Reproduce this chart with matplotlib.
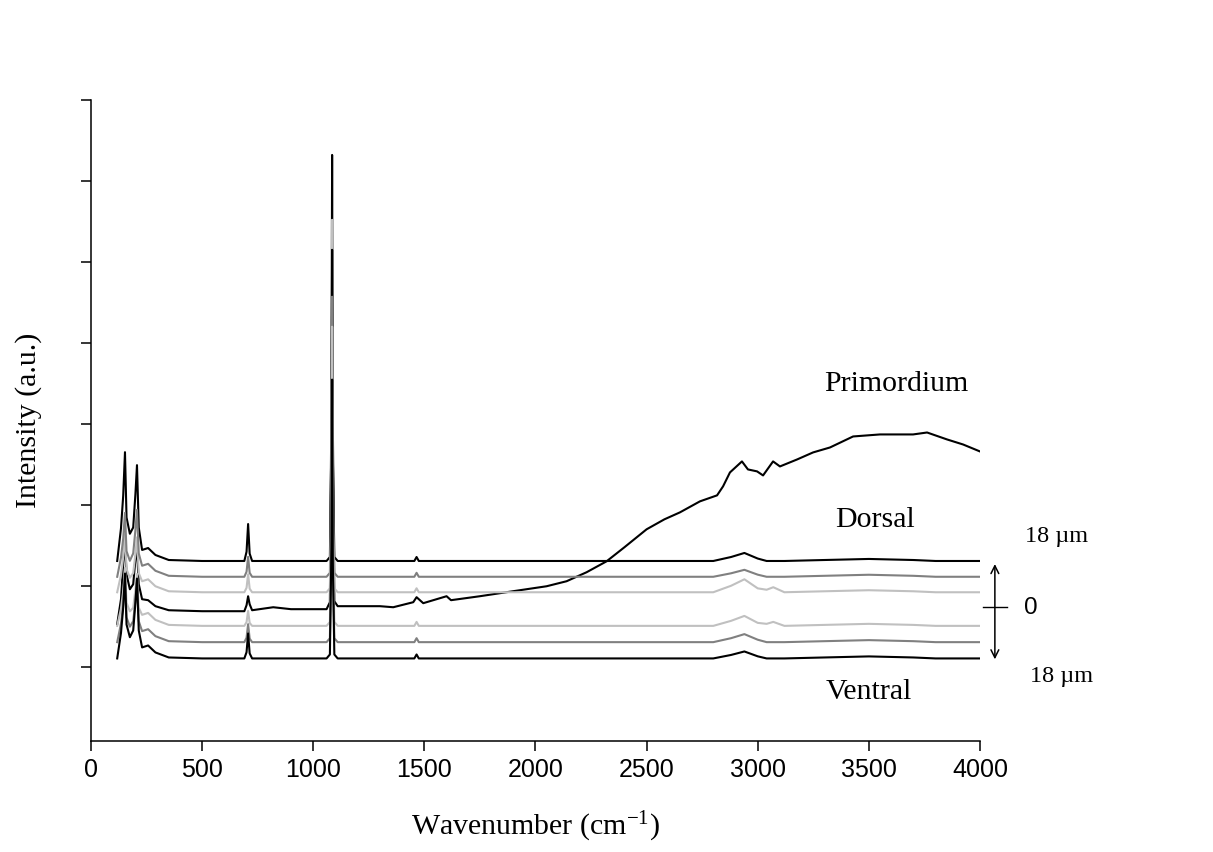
import numpy as np
import matplotlib
matplotlib.use('Agg')
from matplotlib import pyplot as plt

# wavenumber grid shared by the six offset spectra
wn = [118, 135, 145, 153, 160, 175, 190, 200, 207, 215, 230, 257, 290, 350, 500,
      690, 700, 707, 714, 725, 900, 1060, 1075, 1082, 1085, 1088, 1095, 1110, 1300,
      1455, 1465, 1475, 1700, 2000, 2500, 2800, 2880, 2940, 3000, 3040, 3070, 3120,
      3300, 3500, 3700, 3800, 4000]

dorsal = [2.310, 2.713, 3.116, 3.653, 2.847, 2.646, 2.724, 3.138, 3.493, 2.724, 2.446, 2.470, 2.384, 2.322, 2.310,
          2.310, 2.424, 2.766, 2.401, 2.310, 2.310, 2.310, 2.359, 3.847, 6.151, 3.654, 2.359, 2.310, 2.310,
          2.310, 2.359, 2.310, 2.310, 2.310, 2.310, 2.310, 2.359, 2.409, 2.340, 2.310, 2.310, 2.310,
          2.322, 2.335, 2.322, 2.310, 2.310]
gray_up = [2.115, 2.352, 2.588, 2.904, 2.431, 2.312, 2.404, 2.693, 2.941, 2.404, 2.251, 2.275, 2.189, 2.127, 2.115,
           2.115, 2.177, 2.361, 2.164, 2.115, 2.115, 2.115, 2.164, 3.498, 5.572, 3.325, 2.164, 2.115, 2.115,
           2.115, 2.164, 2.115, 2.115, 2.115, 2.115, 2.115, 2.158, 2.201, 2.141, 2.115, 2.115, 2.115,
           2.127, 2.140, 2.127, 2.115, 2.115]
light_up = [1.924, 2.138, 2.353, 2.639, 2.210, 2.103, 2.161, 2.398, 2.602, 2.161, 2.060, 2.084, 1.998, 1.936, 1.924,
            1.924, 1.979, 2.146, 1.968, 1.924, 1.924, 1.924, 1.973, 3.763, 6.521, 3.533, 1.973, 1.924, 1.924,
            1.924, 1.973, 1.924, 1.924, 1.924, 1.924, 1.924, 2.004, 2.084, 1.972, 1.955, 1.986, 1.924,
            1.936, 1.949, 1.936, 1.924, 1.924]
light_low = [1.509, 1.723, 1.938, 2.224, 1.795, 1.688, 1.733, 1.958, 2.150, 1.733, 1.645, 1.669, 1.583, 1.521, 1.509,
             1.509, 1.555, 1.694, 1.546, 1.509, 1.509, 1.509, 1.558, 2.987, 5.202, 2.802, 1.558, 1.509, 1.509,
             1.509, 1.558, 1.509, 1.509, 1.509, 1.509, 1.509, 1.571, 1.632, 1.546, 1.534, 1.558, 1.509,
             1.521, 1.534, 1.521, 1.509, 1.509]
gray_low = [1.308, 1.537, 1.766, 2.072, 1.614, 1.499, 1.567, 1.826, 2.047, 1.567, 1.444, 1.468, 1.382, 1.320, 1.308,
            1.308, 1.363, 1.530, 1.352, 1.308, 1.308, 1.308, 1.357, 2.555, 4.426, 2.399, 1.357, 1.308, 1.308,
            1.308, 1.357, 1.308, 1.308, 1.308, 1.308, 1.308, 1.357, 1.407, 1.338, 1.308, 1.308, 1.308,
            1.320, 1.333, 1.320, 1.308, 1.308]
ventral = [1.107, 1.421, 1.736, 2.155, 1.526, 1.369, 1.452, 1.797, 2.093, 1.452, 1.243, 1.267, 1.181, 1.119, 1.107,
           1.107, 1.184, 1.415, 1.169, 1.107, 1.107, 1.107, 1.156, 2.484, 4.549, 2.312, 1.156, 1.107, 1.107,
           1.107, 1.156, 1.107, 1.107, 1.107, 1.107, 1.107, 1.150, 1.193, 1.133, 1.107, 1.107, 1.107,
           1.119, 1.132, 1.119, 1.107, 1.107]

# primordium spectrum (rising background)
wn_prim = [118, 135, 145, 153, 160, 175, 190, 200, 207, 215, 230, 257, 290, 350, 500, 690, 700, 707, 714,
           725, 820, 900, 1060, 1075, 1082, 1085, 1088, 1095, 1110, 1300, 1360, 1450, 1465, 1495, 1600,
           1620, 1750, 1900, 2050, 2140, 2230, 2320, 2400, 2500, 2580, 2650, 2740, 2817, 2844, 2875,
           2929, 2956, 2997, 3024, 3069, 3100, 3177, 3249, 3325, 3429, 3550, 3699, 3762, 3852, 3924, 4000]
primordium = [1.530, 1.838, 2.269, 2.577, 2.146, 1.961, 2.023, 2.331, 2.479, 2.023, 1.838, 1.826, 1.752, 1.702,
              1.690, 1.690, 1.764, 1.875, 1.776, 1.702, 1.739, 1.715, 1.715, 1.801, 4.303, 7.322, 4.056, 1.813,
              1.752, 1.752, 1.739, 1.801, 1.863, 1.789, 1.875, 1.826, 1.875, 1.937, 1.998, 2.060, 2.171,
              2.306, 2.479, 2.701, 2.824, 2.910, 3.046, 3.120, 3.231, 3.403, 3.539, 3.440, 3.416, 3.366,
              3.539, 3.477, 3.563, 3.650, 3.711, 3.847, 3.872, 3.872, 3.896, 3.810, 3.748, 3.662]

xticks = [0, 500, 1000, 1500, 2000, 2500, 3000, 3500, 4000]
yticks = [1, 2, 3, 4, 5, 6, 7, 8]

plt.rcParams['mathtext.fontset'] = 'custom'
plt.rcParams['mathtext.rm'] = 'Liberation Serif'
plt.rcParams['mathtext.it'] = 'Liberation Serif'

serif = 'Liberation Serif'
sans = 'Liberation Sans'
black, dgray, lgray = '#000000', '#808080', '#c0c0c0'
fs = 21.5

fig = plt.figure(figsize=(12.13, 8.52), dpi=100)
ax = fig.add_axes([0.075, 0.1303, 0.7329, 0.7523])

lw = 1.5
ax.plot(wn_prim, primordium, color=black, lw=lw)
ax.plot(wn, light_up, color=lgray, lw=lw)
ax.plot(wn, dorsal, color=black, lw=lw)
ax.plot(wn, gray_up, color=dgray, lw=lw)
ax.plot(wn, light_low, color=lgray, lw=lw)
ax.plot(wn, gray_low, color=dgray, lw=lw)
ax.plot(wn, ventral, color=black, lw=lw)

ax.set_xlim(0, 4000)
ax.set_ylim(0.088, 8.0)
ax.set_xticks(xticks)
ax.set_yticks(yticks)
ax.set_yticklabels([])
for lab in ax.get_xticklabels():
    lab.set_fontfamily(sans)
    lab.set_fontsize(18)
ax.tick_params(axis='both', direction='out', length=7.5, width=1.1, color='black')
ax.tick_params(axis='x', pad=5)
for s in ['top', 'right']:
    ax.spines[s].set_visible(False)
for s in ['left', 'bottom']:
    ax.spines[s].set_linewidth(1.1)

ax.set_xlabel('Wavenumber (cm$^{-1}$)', family=serif, fontsize=fs, labelpad=20)
ax.set_ylabel('Intensity (a.u.)', family=serif, fontsize=fs, labelpad=24)

ax.text(3622, 4.50, 'Primordium', family=serif, fontsize=fs, ha='center', va='center')
ax.text(3528, 2.81, 'Dorsal', family=serif, fontsize=fs, ha='center', va='center')
ax.text(3500, 0.69, 'Ventral', family=serif, fontsize=fs, ha='center', va='center')

# depth scale on the right
ax.annotate('', xy=(4067, 2.306), xytext=(4067, 1.062),
            arrowprops=dict(arrowstyle='<->', color='black', lw=1.1, mutation_scale=14),
            annotation_clip=False)
ax.plot([4013, 4121], [1.739, 1.739], color='black', lw=1.0, clip_on=False)
ax.text(4346, 2.61, '18 \u00b5m', family=serif, fontsize=17.5, ha='center', va='center', clip_on=False)
ax.text(4229, 1.73, '0', family=sans, fontsize=17.5, ha='center', va='center', clip_on=False)
ax.text(4369, 0.89, '18 \u00b5m', family=serif, fontsize=17.5, ha='center', va='center', clip_on=False)

fig.savefig('out.png', dpi=100)
